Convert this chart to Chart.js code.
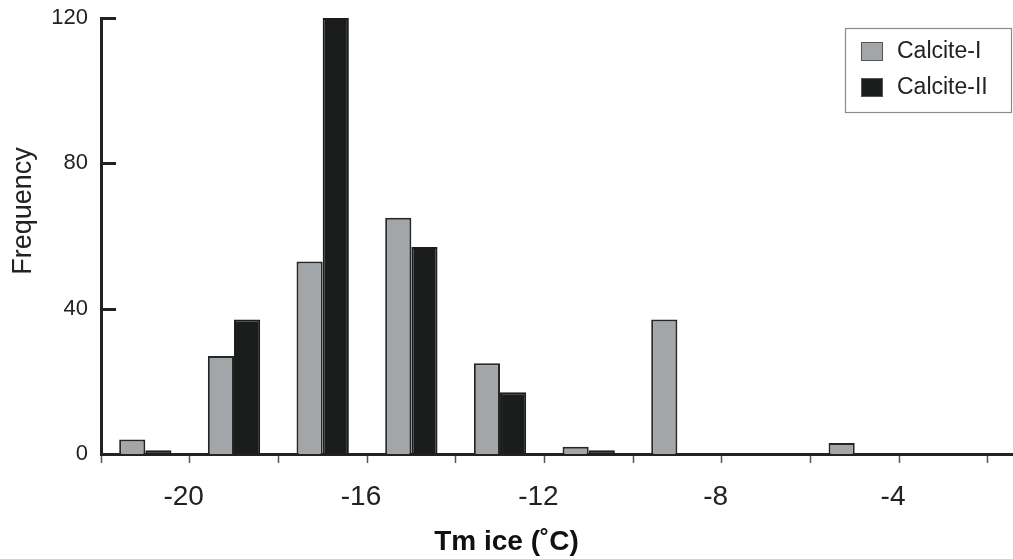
<!DOCTYPE html>
<html>
<head>
<meta charset="utf-8">
<script src="https://cdn.jsdelivr.net/npm/chart.js@4.4.1/dist/chart.umd.min.js"></script>
<style>
  body { margin: 0; background: #fff; }
  #wrap { width: 1013px; height: 559px; }
</style>
</head>
<body>
<div id="wrap"><canvas id="tm-chart"></canvas></div>
<script>
// 2-degree bins of Tm ice, given by their centres
const binCentres = [-21, -19, -17, -15, -13, -11, -9, -7, -5, -3];
const calciteI = [4, 27, 53, 65, 25, 2, 37, 0, 3, 0];
const calciteII = [1, 37, 120, 57, 17, 1, 0, 0, 0, 0];
const seriesNames = ['Calcite-I', 'Calcite-II'];
const yTicks = [0, 40, 80, 120];
const xLabelTicks = [-20, -16, -12, -8, -4];

const FONT = '"Liberation Sans", Arial, Helvetica, sans-serif';
const INK = '#222';

// y ticks point into the plot, so draw them ourselves
const innerTicks = {
    id: 'innerTicks',
    afterDatasetsDraw(chart) {
        const ctx = chart.ctx;
        const y = chart.scales.y;
        const left = chart.chartArea.left;
        ctx.save();
        ctx.strokeStyle = INK;
        ctx.lineWidth = 3;
        yTicks.forEach(v => {
            const py = Math.round(y.getPixelForValue(v)) + 0.5;
            ctx.beginPath();
            ctx.moveTo(left, py);
            ctx.lineTo(left + 15, py);
            ctx.stroke();
        });
        ctx.restore();
    }
};

// y title (sits a bit above the axis centre) and the boxed legend
const extras = {
    id: 'extras',
    afterDraw(chart) {
        const ctx = chart.ctx;
        const area = chart.chartArea;
        ctx.save();

        ctx.fillStyle = INK;
        ctx.font = '27px ' + FONT;
        ctx.textAlign = 'center';
        ctx.textBaseline = 'middle';
        ctx.translate(24, (area.top + area.bottom) / 2 - 25);
        ctx.rotate(-Math.PI / 2);
        ctx.fillText('Frequency', 0, 0);
        ctx.setTransform(1, 0, 0, 1, 0, 0);

        // legend box
        const bx = area.right - 168, by = area.top + 10;
        ctx.strokeStyle = '#8a8a8a';
        ctx.lineWidth = 1.2;
        ctx.strokeRect(bx + 0.5, by + 0.5, 166, 84);
        ctx.font = '23px ' + FONT;
        ctx.textAlign = 'left';
        chart.data.datasets.forEach((ds, i) => {
            const ry = by + 14 + i * 36;
            ctx.fillStyle = ds.backgroundColor;
            ctx.fillRect(bx + 16, ry, 22, 19);
            ctx.strokeStyle = '#555';
            ctx.lineWidth = 1;
            ctx.strokeRect(bx + 16.5, ry + 0.5, 21, 18);
            ctx.fillStyle = INK;
            ctx.fillText(ds.label, bx + 52, ry + 10);
        });
        ctx.restore();
    }
};

const ctx = document.getElementById('tm-chart').getContext('2d');
new Chart(ctx, {
    type: 'bar',
    data: {
        datasets: [{
            label: seriesNames[0],
            data: binCentres.map((x, i) => ({ x: x, y: calciteI[i] })),
            backgroundColor: '#a3a6a9',
            borderColor: '#262626',
            borderWidth: 2
        }, {
            label: seriesNames[1],
            data: binCentres.map((x, i) => ({ x: x, y: calciteII[i] })),
            backgroundColor: '#1b1d1d',
            borderColor: '#1b1d1d',
            borderWidth: 2
        }]
    },
    options: {
        responsive: true,
        maintainAspectRatio: false,
        animation: false,
        layout: { padding: { top: 18, left: 0, right: 0, bottom: 0 } },
        datasets: {
            bar: { categoryPercentage: 0.59, barPercentage: 1.0 }
        },
        scales: {
            x: {
                type: 'linear',
                min: -22,
                max: -1.43,
                offset: false,
                grid: {
                    offset: false,
                    drawOnChartArea: false,
                    drawTicks: true,
                    tickLength: 9,
                    tickWidth: 1.5,
                    tickColor: '#555'
                },
                border: { display: true, color: INK, width: 3 },
                ticks: {
                    stepSize: 2,
                    includeBounds: false,
                    autoSkip: false,
                    maxRotation: 0,
                    padding: 17,
                    labelOffset: -6,
                    color: INK,
                    font: { family: FONT, size: 28 },
                    callback: v => xLabelTicks.includes(v) ? String(v) : ''
                },
                afterFit: scale => {
                    scale.height = 67.4;
                    scale.paddingLeft = 0;
                    scale.paddingRight = 0;
                }
            },
            y: {
                min: 0,
                max: 120,
                grid: { display: false, drawTicks: false },
                border: { display: true, color: INK, width: 3 },
                ticks: {
                    stepSize: 40,
                    padding: 13,
                    color: INK,
                    font: { family: FONT, size: 22 }
                },
                afterFit: scale => {
                    scale.width = 101;
                    scale.paddingTop = 0;
                    scale.paddingBottom = 0;
                }
            }
        },
        plugins: {
            legend: { display: false },
            tooltip: { enabled: false },
            title: {
                display: true,
                position: 'bottom',
                text: 'Tm ice (˚C)',
                color: '#111',
                font: { family: FONT, size: 28, weight: 'bold' },
                padding: { top: 4, bottom: 0 }
            }
        }
    },
    plugins: [innerTicks, extras]
});
</script>
</body>
</html>
